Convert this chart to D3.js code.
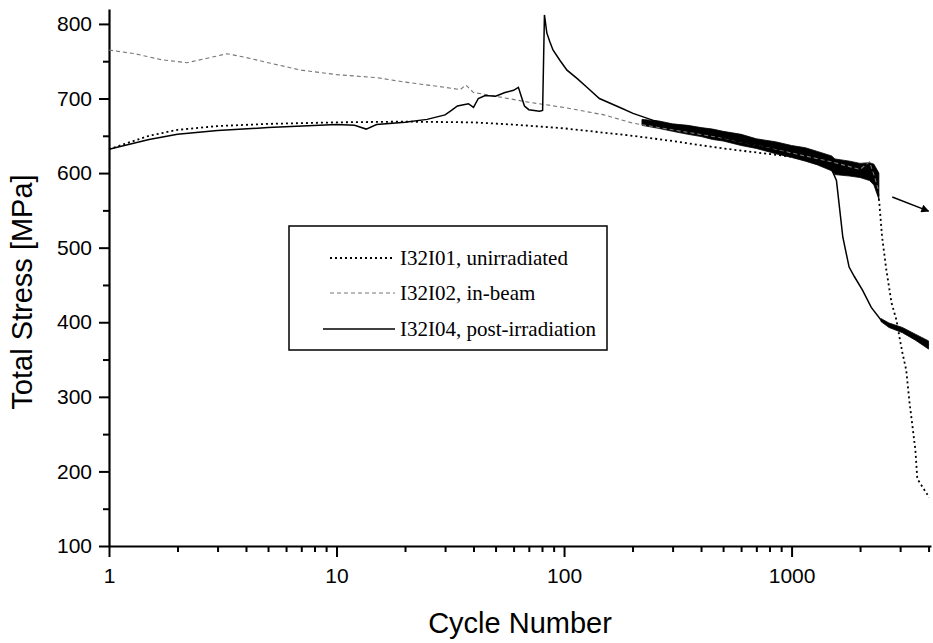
<!DOCTYPE html>
<html><head><meta charset="utf-8">
<script src="https://cdn.jsdelivr.net/npm/d3@7"></script>
<style>body{margin:0;background:#fff} svg{display:block}</style>
</head><body>
<svg id="chart" width="933" height="643"></svg>
<script>
// ---- data ----
const seriesNames = ["I32I01, unirradiated", "I32I02, in-beam", "I32I04, post-irradiation"];

const unirrCycles = [1, 1.5, 2, 3, 5, 10, 20, 40, 60, 100, 200, 300, 500, 1000, 1500, 2000, 2250, 2350, 2430, 2500, 2610, 2750, 2890, 2980, 3070, 3190, 3300, 3360, 3500, 3570, 4030];
const unirrStress = [632, 650, 658, 663, 666, 668, 669, 668, 665, 660, 650, 643, 633, 622, 614, 607, 612, 597, 560, 514, 470, 426, 403, 380, 359, 336, 292, 273, 229, 190, 165];

const inbeamCycles = [1, 1.3, 1.7, 2.2, 2.7, 3.3, 4, 5, 7, 10, 15, 20, 30, 35, 37, 40, 50, 70, 100, 150, 200, 300, 500, 700, 1000, 1500, 2000, 2200, 2300, 2420];
const inbeamStress = [765, 760, 752, 748, 754, 760, 755, 748, 738, 732, 728, 722, 715, 712, 718, 708, 703, 695, 688, 678, 667, 658, 647, 637, 627, 615, 605, 615, 598, 575];

const postCycles = [1, 1.5, 2, 3, 5, 10, 12, 13.5, 15, 20, 25, 30, 32, 34, 38, 40, 42, 45, 50, 55, 60, 63, 65, 67, 70, 78, 80.5, 82, 84, 86.6, 89.4, 96, 103, 114, 126, 143, 176, 201, 245, 322, 400, 500, 700, 1000, 1300, 1500, 1575, 1680, 1790, 1890, 2050, 2240, 2470, 2680, 3070, 3500, 4000];
const postStress = [632, 645, 652, 657, 661, 665, 664, 659, 665, 668, 672, 678, 684, 690, 693, 688, 700, 704, 703, 708, 711, 715, 702, 690, 685, 683, 684, 812, 788, 776, 765, 751, 738, 727, 715, 700, 688, 680, 671, 660, 654, 648, 637, 625, 614, 605, 590, 514, 474, 461, 443, 420, 403, 396, 390, 380, 370];

// scatter band of the noisy region (envelope)
const bandCycles = [220, 260, 300, 350, 400, 450, 500, 600, 700, 850, 1000, 1150, 1300, 1500, 1550, 1800, 2000, 2200, 2300, 2420];
const bandHigh = [672, 670, 666, 664, 661, 659, 656, 652, 646, 642, 637, 634, 629, 623, 619, 616, 613, 614, 612, 600];
const bandLow = [664, 660, 656, 652, 649, 645, 643, 637, 633, 626, 621, 616, 611, 603, 598, 596, 594, 590, 584, 565];

// scatter band of the post-irradiation tail
const tailCycles = [2470, 2680, 3070, 3500, 4000];
const tailHigh = [405, 399, 393, 384, 375];
const tailLow = [401, 393, 386, 376, 364];

const arrowFrom = [2770, 568];
const arrowTo = [4000, 549];

const xMajorTicks = [1, 10, 100, 1000];
const xTickLabels = ["1", "10", "100", "1000"];
const xMinorTicks = [2,3,4,5,6,7,8,9,20,30,40,50,60,70,80,90,200,300,400,500,600,700,800,900,2000,3000,4000];
const yMajorTicks = [100, 200, 300, 400, 500, 600, 700, 800];
const yTickLabels = ["100", "200", "300", "400", "500", "600", "700", "800"];
const yMinorTicks = [150, 250, 350, 450, 550, 650, 750];

// ---- drawing ----
const svg = d3.select("#chart");
const x = d3.scaleLog().domain([1, 4100]).range([109, 931]);
const y = d3.scaleLinear().domain([100, 820]).range([546, 9]);
const font = "'Liberation Sans', Arial, sans-serif";

// x axis
const gx = svg.append("g").attr("transform", "translate(0,546)");
gx.call(d3.axisBottom(x).tickValues(xMajorTicks).tickFormat((d, i) => xTickLabels[i]).tickSize(11).tickSizeOuter(0).tickPadding(11));
const gxm = svg.append("g").attr("transform", "translate(0,546)");
gxm.call(d3.axisBottom(x).tickValues(xMinorTicks).tickFormat("").tickSize(6).tickSizeOuter(0));
gxm.select(".domain").remove();

// y axis
const gy = svg.append("g").attr("transform", "translate(109,0)");
gy.call(d3.axisLeft(y).tickValues(yMajorTicks).tickFormat((d, i) => yTickLabels[i]).tickSize(10).tickSizeOuter(0).tickPadding(7));
const gym = svg.append("g").attr("transform", "translate(109,0)");
gym.call(d3.axisLeft(y).tickValues(yMinorTicks).tickFormat("").tickSize(6).tickSizeOuter(0));
gym.select(".domain").remove();

svg.selectAll(".domain").attr("stroke", "#000").attr("stroke-width", 2.2);
svg.selectAll(".tick line").attr("stroke", "#000").attr("stroke-width", 2);
svg.selectAll(".tick text").attr("fill", "#000").style("font-family", font).style("font-size", "21px");

// axis titles
svg.append("text").attr("x", 520).attr("y", 633).attr("text-anchor", "middle")
  .style("font-family", font).style("font-size", "29px").text("Cycle Number");
svg.append("text").attr("transform", "translate(32,292) rotate(-90)").attr("text-anchor", "middle")
  .style("font-family", font).style("font-size", "29px").text("Total Stress [MPa]");

// noisy bands
const area = d3.area().x(d => x(d.c)).y0(d => y(d.lo)).y1(d => y(d.hi));
[[bandCycles, bandHigh, bandLow], [tailCycles, tailHigh, tailLow]].forEach(([c, hi, lo]) => {
  svg.append("path").datum(c.map((v, i) => ({c: v, hi: hi[i], lo: lo[i]})))
    .attr("d", area).attr("fill", "#000").attr("stroke", "#000").attr("stroke-width", 0.8);
});

const line = d3.line().x(d => x(d[0])).y(d => y(d[1]));
const zip = (a, b) => a.map((v, i) => [v, b[i]]);

const styles = [
  {stroke: "#000", width: 1.8, dash: "2,3"},
  {stroke: "#777", width: 1.1, dash: "4,3"},
  {stroke: "#000", width: 1.5, dash: null}
];
const data = [zip(unirrCycles, unirrStress), zip(inbeamCycles, inbeamStress), zip(postCycles, postStress)];
data.forEach((d, i) => {
  svg.append("path").datum(d).attr("d", line).attr("fill", "none")
    .attr("stroke", styles[i].stroke).attr("stroke-width", styles[i].width)
    .attr("stroke-dasharray", styles[i].dash);
});

// arrow
svg.append("defs").append("marker").attr("id", "arr").attr("viewBox", "0 0 10 10")
  .attr("refX", 9).attr("refY", 5).attr("markerWidth", 12).attr("markerHeight", 8)
  .attr("markerUnits", "userSpaceOnUse").attr("orient", "auto")
  .append("path").attr("d", "M0,0 L10,5 L0,10 Z").attr("fill", "#000");
svg.append("line").attr("x1", x(arrowFrom[0])).attr("y1", y(arrowFrom[1]))
  .attr("x2", x(arrowTo[0])).attr("y2", y(arrowTo[1]))
  .attr("stroke", "#000").attr("stroke-width", 1.5).attr("marker-end", "url(#arr)");

// legend
const lg = svg.append("g");
lg.append("rect").attr("x", 289).attr("y", 226).attr("width", 318).attr("height", 124)
  .attr("fill", "#fff").attr("stroke", "#000").attr("stroke-width", 1.5);
const rowY = [258, 293, 329];
const sampleX0 = [330, 330, 323];
seriesNames.forEach((name, i) => {
  lg.append("line").attr("x1", sampleX0[i]).attr("x2", 395).attr("y1", rowY[i]).attr("y2", rowY[i])
    .attr("stroke", styles[i].stroke).attr("stroke-width", styles[i].width)
    .attr("stroke-dasharray", styles[i].dash);
  lg.append("text").attr("x", 400).attr("y", rowY[i] + 7)
    .style("font-family", "'Liberation Serif', 'DejaVu Serif', serif").style("font-size", "21px")
    .text(name);
});
</script>
</body></html>
